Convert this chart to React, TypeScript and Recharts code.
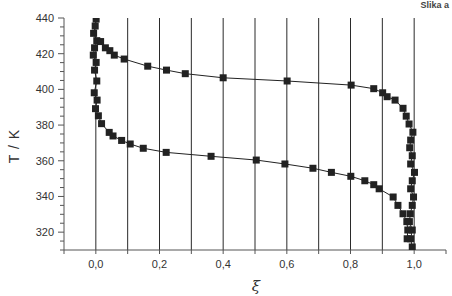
import React from 'react';
import { ScatterChart, Scatter, XAxis, YAxis, ReferenceLine } from 'recharts';

// upper curve: left column top, upper branch, right column down to 310 K
const upperXi = [0.001, -0.002, -0.007, 0.003, 0.015, 0.03, 0.044, 0.058, 0.089, 0.163, 0.222, 0.281, 0.4, 0.601, 0.802, 0.873, 0.901, 0.915, 0.94, 0.965, 0.975, 0.984, 0.996, 0.989, 0.986, 0.994, 0.989, 1.001, 0.994, 0.989, 0.998, 0.994, 0.988, 0.985, 0.994, 0.989, 0.994];
const upperT = [439.4, 435.5, 431.4, 427.3, 426.8, 423.3, 421.7, 419.2, 417, 413, 410.8, 408.8, 406.5, 404.7, 402.4, 400.4, 398.1, 395.9, 394, 389.4, 385, 380.6, 376, 371.6, 367.3, 362.8, 358.2, 353.5, 348.8, 344.3, 339.7, 335, 330.3, 325.9, 321.2, 316.3, 311.7];

// lower curve: left column, lower branch, bottom of right column
const lowerXi = [-0.004, -0.008, 0.001, -0.004, 0.003, -0.005, 0.004, -0.001, 0.008, 0.018, 0.042, 0.054, 0.081, 0.108, 0.149, 0.221, 0.362, 0.504, 0.594, 0.682, 0.74, 0.801, 0.845, 0.873, 0.89, 0.934, 0.949, 0.965, 0.977, 0.98, 0.978];
const lowerT = [423.3, 419.2, 415.1, 410.8, 404.7, 398.1, 394, 389.2, 385.2, 380.8, 375.9, 373.9, 371.4, 369.4, 367, 364.7, 362.5, 360.4, 358.2, 355.8, 353.5, 351.3, 348.8, 346.6, 344.3, 339.7, 335, 330.3, 325.9, 321.2, 316.3];

const xTicks = [-0.1, 0, 0.1, 0.2, 0.3, 0.4, 0.5, 0.6, 0.7, 0.8, 0.9, 1.0, 1.1];
const gridXi = [0, 0.1, 0.2, 0.3, 0.4, 0.5, 0.6, 0.7, 0.8, 0.9, 1.0];
const yTicks = [310, 315, 320, 325, 330, 335, 340, 345, 350, 355, 360, 365, 370, 375, 380, 385, 390, 395, 400, 405, 410, 415, 420, 425, 430, 435, 440];

const upper = upperXi.map((x, i) => ({ x, t: upperT[i] }));
const lower = lowerXi.map((x, i) => ({ x, t: lowerT[i] }));

const ink = '#222';
const font = '"Liberation Sans", Arial, sans-serif';

const Square = (props: any) => (
  <rect x={props.cx - 3.5} y={props.cy - 3.5} width={7} height={7} fill={ink} />
);

const XTick = ({ x, y, payload }: any) => {
  const v = payload.value;
  const k = Math.round(v * 10);
  const major = k % 2 === 0 && k >= 0 && k <= 10;
  return (
    <g>
      <line x1={x} x2={x} y1={y} y2={y + 4} stroke="#555" />
      {major && (
        <text x={x} y={y + 18} textAnchor="middle" fontSize={11} fill="#333" fontFamily={font}>
          {v.toFixed(1).replace('.', ',')}
        </text>
      )}
    </g>
  );
};

const YTick = ({ x, y, payload }: any) => {
  const v = payload.value;
  const major = v % 20 === 0;
  return (
    <g>
      <line x1={x - (major ? 6 : 4)} x2={x} y1={y} y2={y} stroke="#555" />
      {major && (
        <text x={x - 10} y={y + 4} textAnchor="end" fontSize={11} fill="#333" fontFamily={font}>
          {v}
        </text>
      )}
    </g>
  );
};

export default function App() {
  return (
    <div style={{ position: 'absolute', left: 0, top: 0, width: 452, height: 296, background: '#fff', overflow: 'hidden' }}>
      <div style={{ position: 'absolute', right: 3, top: 0, lineHeight: '10px', fontFamily: font, fontWeight: 'bold', fontSize: 9, color: '#444' }}>
        Slika a
      </div>
      <ScatterChart width={452} height={296} margin={{ top: 18, right: 6, bottom: 0, left: 0 }}>
        <XAxis
          type="number"
          dataKey="x"
          domain={[-0.1, 1.1]}
          ticks={xTicks}
          interval={0}
          height={46}
          tickSize={0}
          tickMargin={0}
          tickLine={false}
          tick={<XTick />}
          stroke="#555"
          allowDataOverflow
        />
        <YAxis
          type="number"
          dataKey="t"
          domain={[310, 440]}
          ticks={yTicks}
          interval={0}
          width={64}
          tickSize={0}
          tickMargin={0}
          tickLine={false}
          tick={<YTick />}
          stroke="#555"
          allowDataOverflow
        />
        {gridXi.map((g) => (
          <ReferenceLine key={g} x={g} stroke="#2a2a2a" strokeWidth={1} />
        ))}
        <Scatter data={upper} line={{ stroke: ink, strokeWidth: 1 }} shape={<Square />} isAnimationActive={false} />
        <Scatter data={lower} line={{ stroke: ink, strokeWidth: 1 }} shape={<Square />} isAnimationActive={false} />
      </ScatterChart>
      <div style={{ position: 'absolute', left: 14, top: 146, transform: 'translate(-50%, -50%) rotate(-90deg)', fontFamily: font, fontSize: 14, color: '#333', whiteSpace: 'pre', letterSpacing: 1 }}>
        T / K
      </div>
      <div style={{ position: 'absolute', left: 256, top: 286, transform: 'translate(-50%, -50%)', fontFamily: '"DejaVu Serif", serif', fontStyle: 'italic', fontSize: 15, color: '#333' }}>
        ξ
      </div>
    </div>
  );
}
